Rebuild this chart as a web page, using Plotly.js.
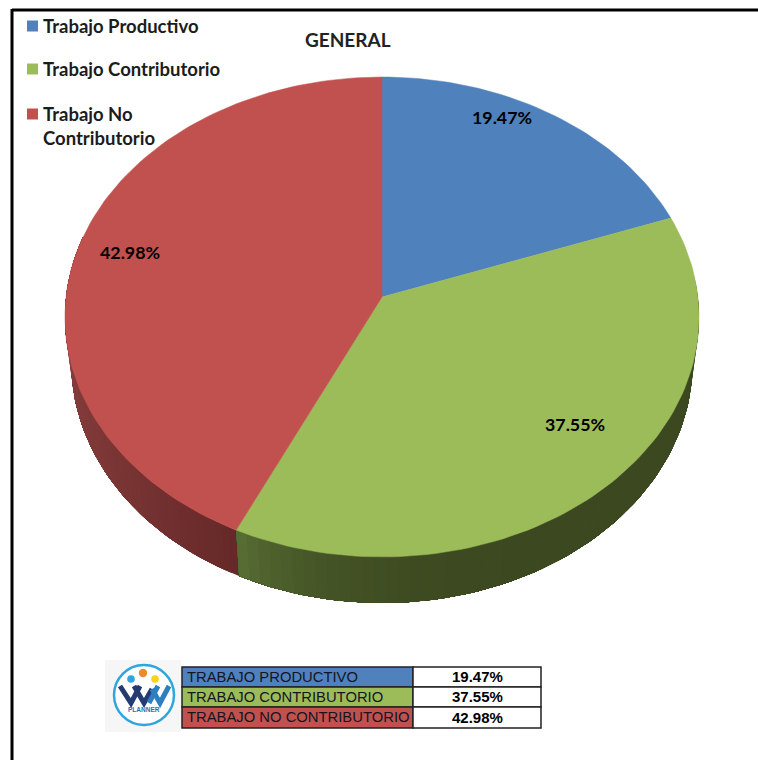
<!DOCTYPE html>
<html>
<head>
<meta charset="utf-8">
<script src="https://cdn.plot.ly/plotly-3.0.1.min.js"></script>
<style>html,body{margin:0;padding:0;background:#fff}#chart{width:758px;height:760px}</style>
</head>
<body>
<div id="chart"></div>
<script>
// ---- data ----
const legendNames = ['Trabajo Productivo', 'Trabajo Contributorio', 'Trabajo No<br>Contributorio'];
const tableNames = ['TRABAJO PRODUCTIVO', 'TRABAJO CONTRIBUTORIO', 'TRABAJO NO CONTRIBUTORIO'];
const percentValues = [19.47, 37.55, 42.98];
const chartTitle = 'GENERAL';

// ---- styles and layout constants ----
const topColors = ['#4f81bd', '#9cbc5a', '#c1514f'];
const wallFrom = [null, [60, 72, 32], [102, 40, 40]];
const wallTo = [null, [86, 108, 50], [146, 70, 68]];
const wallPow = [null, 8, 0.8];
const APEX = [382, 297];
const A = 315.9, B = 238.3, P = -1 / 12, DEPTH = 46, SHRINK = 0.98;
const labelPos = [[502, 117], [575, 424], [130, 252]];
const legendRows = [26, 69, 114];
const LABEL_FONT = 'Lato, "Noto Sans", sans-serif';
const TABLE_FONT = '"Liberation Sans", Arial, sans-serif';

// 3D-tilted disc: perspective projection of a circle angle to chart coordinates
function proj(deg, lower) {
  const th = deg * Math.PI / 180, d = 1 - P * Math.cos(th);
  const s = lower ? SHRINK : 1;
  return [APEX[0] + s * A * Math.sin(th) / d,
          APEX[1] - B * Math.cos(th) / d + (lower ? DEPTH : 0)];
}
function arc(a, b, lower) {
  const pts = [], n = Math.max(2, Math.ceil(Math.abs(b - a) / 1.5));
  for (let i = 0; i <= n; i++) pts.push(proj(a + (b - a) * i / n, lower));
  return pts;
}
function polyTrace(pts, color, name, w) {
  const closed = pts.concat([pts[0]]);
  return { type: 'scatter', mode: 'lines', x: closed.map(p => p[0]), y: closed.map(p => p[1]),
    fill: 'toself', fillcolor: color, line: { color: color, width: w }, name: name,
    hoverinfo: 'skip', showlegend: false };
}

const cum = [0];
percentValues.forEach(v => cum.push(cum[cum.length - 1] + v * 3.6));
const traces = [];

// side wall: each shaded band runs to the far end of the wall and the next one paints over it
[2, 1].forEach(k => {
  const start = k === 1 ? 85 : cum[2], end = k === 1 ? cum[2] : 285;
  const bands = 60;
  for (let i = 0; i < bands; i++) {
    const f = i / (bands - 1);
    const a = start + (end - start) * i / bands;
    const mix = Math.pow(f, wallPow[k]);
    const c = wallFrom[k].map((v, j) => Math.round(v + (wallTo[k][j] - v) * mix));
    const pts = arc(a, end, false).concat(arc(end, a, true));
    traces.push(polyTrace(pts, 'rgb(' + c.join(',') + ')', legendNames[k] + ' wall', 0));
  }
});

// top face, one wedge per value
percentValues.forEach((v, k) => {
  const pts = [APEX].concat(arc(cum[k], cum[k + 1], false));
  traces.push(polyTrace(pts, topColors[k], legendNames[k], 0.5));
});

// ---- annotations ----
const annotations = [];
function note(x, y, text, size, color, family, anchor) {
  annotations.push({ xref: 'x', yref: 'y', x: x, y: y, text: text, showarrow: false,
    xanchor: anchor || 'center', yanchor: 'middle', align: 'left',
    font: { size: size, color: color || '#111', family: family || LABEL_FONT } });
}
note(348, 39, '<b>' + chartTitle + '</b>', 19, '#222');
percentValues.forEach((v, k) => note(labelPos[k][0], labelPos[k][1], '<b>' + v.toFixed(2) + '%</b>', 17.8, '#000'));
legendNames.forEach((n, k) => {
  const yy = k === 2 ? 126 : legendRows[k];
  annotations.push({ xref: 'x', yref: 'y', x: 41, y: yy, text: '<b>' + n + '</b>', showarrow: false,
    xanchor: 'left', yanchor: 'middle', align: 'left',
    font: { size: 18.5, color: '#1c1c1c', family: LABEL_FONT } });
});

// ---- shapes ----
const shapes = [];
function rect(x0, y0, x1, y1, fill, lineColor, w) {
  shapes.push({ type: 'rect', xref: 'x', yref: 'y', x0, y0, x1, y1, fillcolor: fill,
    line: { color: lineColor || fill, width: w === undefined ? 0 : w }, layer: 'above' });
}
// frame
shapes.push({ type: 'line', xref: 'x', yref: 'y', x0: 12, y0: 10, x1: 758, y1: 10, line: { color: '#000', width: 3 } });
shapes.push({ type: 'line', xref: 'x', yref: 'y', x0: 12, y0: 9, x1: 12, y1: 760, line: { color: '#000', width: 3 } });
// legend keys
legendRows.forEach((y, k) => rect(27, y - 5.5, 38, y + 5.5, topColors[k]));

// table
const rowY = [667, 687, 707, 728], colX = [182, 413, 541];
tableNames.forEach((n, k) => {
  rect(colX[0], rowY[k], colX[1], rowY[k + 1], topColors[k], '#222', 1.5);
  rect(colX[1], rowY[k], colX[2], rowY[k + 1], '#ffffff', '#222', 1.5);
  note(185, (rowY[k] + rowY[k + 1]) / 2 - 0.5, n, 14.8, '#15151f', TABLE_FONT, 'left');
  note((colX[1] + colX[2]) / 2, (rowY[k] + rowY[k + 1]) / 2 - 0.5, '<b>' + percentValues[k].toFixed(2) + '%</b>', 15, '#000', TABLE_FONT);
});

// logo
rect(105, 660, 181, 732, '#f6f6f6');
function circle(cx, cy, r, fill, lineColor, w) {
  shapes.push({ type: 'circle', xref: 'x', yref: 'y', x0: cx - r, x1: cx + r, y0: cy - r, y1: cy + r,
    fillcolor: fill, line: { color: lineColor || fill, width: w || 0 }, layer: 'above' });
}
function path(d, color, w) {
  shapes.push({ type: 'path', xref: 'x', yref: 'y', path: d, line: { color: color, width: w }, layer: 'above' });
}
circle(144, 695, 30, '#ffffff', '#2ea6dd', 2.5);
circle(131, 679, 3.8, '#2ea6dd');
circle(143, 673, 4.2, '#ee8a2a');
circle(155, 679, 3.8, '#f8d21c');
path('M120,686 L131,703 L140,686', '#243a73', 5);
path('M134,686 L144,703 L152,689', '#243a73', 5);
path('M149,703 L158,686', '#2e7fc0', 5);
path('M152,689 L160,703 L169,686', '#2e7fc0', 5);
note(144, 709, '<b>PLANNER</b>', 6.5, '#2a6fb0', TABLE_FONT);

const axis = { visible: false, showgrid: false, zeroline: false, fixedrange: true };
const layout = {
  width: 758, height: 760, margin: { l: 0, r: 0, t: 0, b: 0 },
  paper_bgcolor: '#ffffff', plot_bgcolor: '#ffffff', showlegend: false,
  xaxis: Object.assign({ range: [0, 758] }, axis),
  yaxis: Object.assign({ range: [760, 0] }, axis),
  shapes: shapes, annotations: annotations
};
Plotly.newPlot('chart', traces, layout, { displayModeBar: false, staticPlot: true });
</script>
</body>
</html>
